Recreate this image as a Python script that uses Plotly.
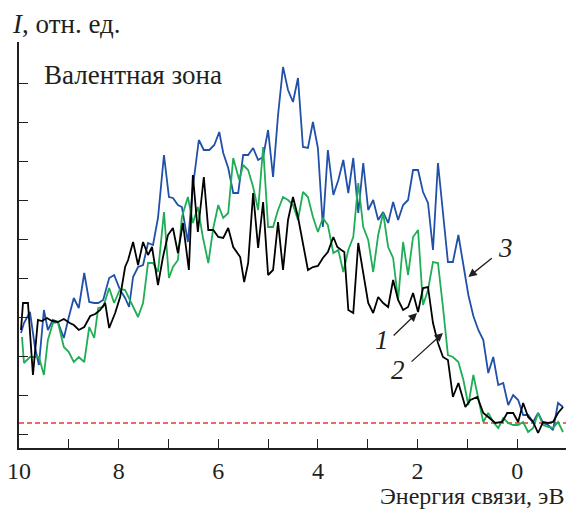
import plotly.graph_objects as go

# Binding energy (eV) and intensity (relative units)
e1 = [9.96, 9.92, 9.82, 9.72, 9.62, 9.54, 9.44, 9.34, 9.22, 9.10, 8.98, 8.90, 8.80, 8.69, 8.57, 8.47, 8.37, 8.27, 8.19, 8.07,
      7.97, 7.87, 7.81, 7.71, 7.61, 7.51, 7.41, 7.33, 7.21, 7.11, 7.01, 6.91, 6.81, 6.71, 6.59, 6.51, 6.41, 6.29, 6.20, 6.10,
      6.00, 5.90, 5.80, 5.70, 5.56, 5.48, 5.40, 5.30, 5.20, 5.10, 5.00, 4.90, 4.80, 4.70, 4.60, 4.50, 4.40, 4.30, 4.20, 4.10,
      4.00, 3.90, 3.80, 3.69, 3.61, 3.53, 3.47, 3.39, 3.29, 3.19, 3.09, 2.99, 2.89, 2.79, 2.69, 2.59, 2.49, 2.39, 2.29, 2.19,
      2.09, 1.99, 1.89, 1.79, 1.69, 1.59, 1.49, 1.39, 1.29, 1.18, 1.04, 0.94, 0.80, 0.68, 0.58, 0.44, 0.30, 0.20, 0.08, -0.02,
      -0.12, -0.22, -0.32, -0.42, -0.52, -0.62, -0.72, -0.82, -0.92]
i1 = [143, 170, 170, 98, 153, 152, 155, 152, 151, 154, 150, 148, 143, 146, 157, 159, 163, 170, 145, 160,
      176, 206, 213, 231, 208, 231, 218, 226, 188, 216, 238, 245, 220, 250, 203, 298, 241, 296, 243, 243,
      236, 235, 245, 226, 216, 191, 210, 280, 225, 271, 198, 203, 251, 203, 253, 276, 256, 230, 203, 206,
      207, 215, 221, 236, 226, 223, 221, 163, 160, 230, 200, 170, 160, 176, 170, 166, 193, 173, 163, 166,
      180, 161, 185, 186, 150, 130, 116, 113, 76, 90, 66, 73, 76, 60, 56, 50, 51, 60, 60, 51,
      70, 56, 51, 40, 51, 50, 51, 60, 66]

e2 = [9.94, 9.90, 9.78, 9.68, 9.60, 9.50, 9.42, 9.32, 9.22, 9.10, 9.00, 8.90, 8.80, 8.69, 8.59, 8.49, 8.41, 8.31, 8.19, 8.09,
      7.97, 7.87, 7.77, 7.69, 7.61, 7.51, 7.41, 7.31, 7.21, 7.09, 6.99, 6.91, 6.81, 6.73, 6.61, 6.51, 6.41, 6.31, 6.20, 6.10,
      6.00, 5.90, 5.80, 5.70, 5.58, 5.50, 5.40, 5.30, 5.20, 5.10, 5.00, 4.90, 4.80, 4.70, 4.60, 4.50, 4.40, 4.30, 4.20, 4.10,
      4.00, 3.90, 3.80, 3.69, 3.59, 3.49, 3.39, 3.29, 3.19, 3.09, 2.99, 2.89, 2.79, 2.69, 2.59, 2.49, 2.39, 2.29, 2.19, 2.09,
      1.99, 1.89, 1.79, 1.69, 1.59, 1.49, 1.39, 1.29, 1.18, 1.08, 0.98, 0.88, 0.78, 0.68, 0.58, 0.48, 0.38, 0.28, 0.18, 0.08,
      -0.02, -0.12, -0.22, -0.32, -0.42, -0.52, -0.62, -0.72, -0.82, -0.92]
i2 = [136, 110, 116, 116, 116, 98, 133, 150, 151, 126, 121, 111, 116, 111, 146, 135, 165, 166, 185, 170,
      184, 183, 173, 165, 156, 170, 210, 210, 201, 261, 195, 206, 213, 256, 276, 250, 266, 236, 210, 245,
      268, 255, 260, 315, 293, 308, 303, 286, 263, 326, 246, 246, 263, 276, 273, 268, 253, 281, 276, 256,
      241, 255, 248, 220, 223, 201, 223, 236, 290, 246, 233, 201, 238, 260, 226, 215, 173, 231, 198, 236,
      243, 168, 183, 211, 210, 166, 118, 116, 111, 93, 68, 98, 73, 51, 60, 51, 45, 55, 50, 48,
      48, 51, 41, 45, 60, 48, 46, 45, 51, 41]

e3 = [9.96, 9.90, 9.78, 9.68, 9.60, 9.50, 9.42, 9.32, 9.22, 9.10, 9.00, 8.90, 8.80, 8.69, 8.59, 8.49, 8.41, 8.31, 8.19, 8.09,
      7.97, 7.87, 7.79, 7.71, 7.61, 7.51, 7.41, 7.31, 7.21, 7.09, 6.99, 6.91, 6.81, 6.73, 6.61, 6.51, 6.39, 6.29, 6.18, 6.08,
      5.98, 5.90, 5.80, 5.70, 5.60, 5.50, 5.40, 5.30, 5.20, 5.10, 5.00, 4.90, 4.80, 4.70, 4.60, 4.50, 4.40, 4.30, 4.20, 4.10,
      4.00, 3.90, 3.80, 3.69, 3.59, 3.49, 3.39, 3.29, 3.19, 3.09, 2.99, 2.89, 2.79, 2.69, 2.59, 2.49, 2.39, 2.29, 2.19, 2.09,
      1.99, 1.89, 1.79, 1.69, 1.59, 1.49, 1.39, 1.29, 1.18, 1.08, 0.98, 0.88, 0.78, 0.68, 0.58, 0.48, 0.38, 0.28, 0.18, 0.08,
      -0.02, -0.12, -0.22, -0.32, -0.42, -0.52, -0.62, -0.72, -0.82, -0.92]
i3 = [140, 150, 161, 126, 108, 163, 143, 153, 151, 135, 156, 175, 165, 200, 171, 170, 170, 173, 195, 198,
      183, 175, 166, 196, 206, 208, 230, 228, 255, 318, 276, 275, 268, 266, 231, 286, 333, 323, 323, 328,
      341, 320, 305, 280, 280, 318, 318, 325, 313, 316, 343, 296, 358, 406, 383, 371, 395, 326, 325, 351,
      325, 246, 323, 278, 293, 313, 280, 315, 260, 310, 263, 273, 253, 261, 250, 271, 253, 268, 273, 303,
      303, 281, 270, 223, 310, 258, 211, 211, 238, 208, 178, 157, 143, 133, 100, 116, 88, 90, 68, 78,
      73, 58, 58, 51, 60, 50, 48, 43, 70, 66]

baseline_e = [10.0, -0.98]
baseline_i = [50, 50]

x_ticks = [10, 9, 8, 7, 6, 5, 4, 3, 2, 1, 0]
x_ticktext = ["10", "", "8", "", "6", "", "4", "", "2", "", "0"]
y_ticks = [39, 78, 117, 156, 195, 234, 273, 312, 351, 390]

FONT = "Liberation Serif"
FS = 27

fig = go.Figure()
fig.add_trace(go.Scatter(x=baseline_e, y=baseline_i, mode="lines",
                         line=dict(color="#e8392b", width=1.6, dash="5px,3px"), hoverinfo="skip"))
fig.add_trace(go.Scatter(x=e3, y=i3, mode="lines", line=dict(color="#2050a8", width=1.8)))
fig.add_trace(go.Scatter(x=e2, y=i2, mode="lines", line=dict(color="#1fae55", width=1.8)))
fig.add_trace(go.Scatter(x=e1, y=i1, mode="lines", line=dict(color="#000000", width=1.8)))

fig.update_layout(
    width=571, height=510,
    margin=dict(l=19, r=5, t=42, b=62),
    paper_bgcolor="white", plot_bgcolor="white",
    showlegend=False,
    font=dict(family=FONT, size=FS, color="#231f20"),
    xaxis=dict(range=[10, -0.98], tickvals=x_ticks, ticktext=x_ticktext,
               ticks="inside", ticklen=9, tickwidth=1.4, tickcolor="#231f20",
               showline=True, linecolor="#231f20", linewidth=1.6,
               showgrid=False, zeroline=False, ticklabelstandoff=0,
               tickfont=dict(family=FONT, size=24, color="#231f20")),
    yaxis=dict(range=[25, 431], tickvals=y_ticks, showticklabels=False,
               ticks="inside", ticklen=9, tickwidth=1.4, tickcolor="#231f20",
               showline=True, linecolor="#231f20", linewidth=1.6,
               showgrid=False, zeroline=False),
)

annotations = [
    dict(text="<i>I</i>, отн. ед.", xref="paper", yref="paper", x=-0.0165, y=1.045,
         xanchor="left", yanchor="middle", showarrow=False, font=dict(size=FS)),
    dict(text="Валентная зона", xref="paper", yref="paper", x=0.042, y=0.919,
         xanchor="left", yanchor="middle", showarrow=False, font=dict(size=FS)),
    dict(text="Энергия связи, эВ", xref="paper", yref="paper", x=1.0, y=-0.118,
         xanchor="right", yanchor="middle", showarrow=False, font=dict(size=24)),
    dict(text="<i>1</i>", x=2.71, y=133, xref="x", yref="y", showarrow=False, font=dict(size=FS)),
    dict(text="<i>2</i>", x=2.39, y=103, xref="x", yref="y", showarrow=False, font=dict(size=FS)),
    dict(text="<i>3</i>", x=0.24, y=225, xref="x", yref="y", showarrow=False, font=dict(size=FS)),
]
for hx, hy, tx, ty in [(2.01, 160, 2.51, 136), (1.49, 140, 2.15, 110), (0.98, 196, 0.48, 216)]:
    annotations.append(dict(text="", x=hx, y=hy, ax=tx, ay=ty, xref="x", yref="y", axref="x", ayref="y",
                            showarrow=True, arrowhead=2, arrowsize=1.3, arrowwidth=1.3, arrowcolor="#231f20"))
fig.update_layout(annotations=annotations)

fig.write_html("out.html")
